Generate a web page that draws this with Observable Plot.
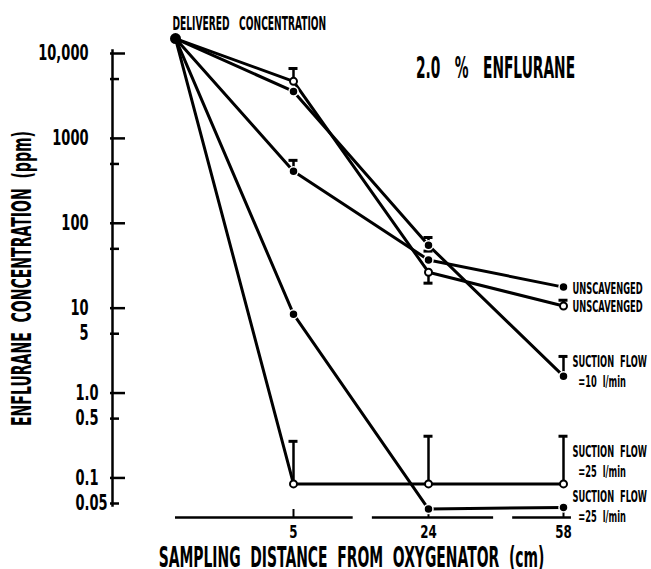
<!DOCTYPE html>
<html><head><meta charset="utf-8">
<script src="https://cdn.jsdelivr.net/npm/d3@7"></script>
<script src="https://cdn.jsdelivr.net/npm/@observablehq/plot@0.6"></script>
<style>
html,body{margin:0;padding:0;background:#fff;}
#chart svg{display:block;}
</style></head><body><div id="chart"></div>
<script>
// ---- data ----
const distances = [0, 5, 24, 58];               // cm from oxygenator (0 = delivered)
const deliveredConc = 15000;                     // ppm
const unscavOpen   = [15000, 4700, 26.5, 10.6];
const unscavFilled = [15000, 410, 37, 17.7];
const suction10    = [15000, 3570, 55, 1.58];
const suction25Open   = [15000, 0.085, 0.085, 0.085];
const suction25Filled = [15000, 8.5, 0.043, 0.045];

const seriesKeys   = ["unscavOpen", "unscavFilled", "suction10", "suction25Open", "suction25Filled"];
const seriesValues = [unscavOpen, unscavFilled, suction10, suction25Open, suction25Filled];
const seriesOpen   = [true, false, false, true, false];
const seriesLabels = ["UNSCAVENGED", "UNSCAVENGED", "SUCTION FLOW\n=10 l/min", "SUCTION FLOW\n=25 l/min", "SUCTION FLOW\n=25 l/min"];

// error bars: from the point value to the capped end
const errSeries = ["unscavOpen", "unscavOpen", "unscavOpen", "unscavFilled", "suction10", "suction10", "suction10", "suction25Open", "suction25Open", "suction25Open"];
const errX    = [5, 24, 58, 5, 24, 24, 58, 5, 24, 58];
const errFrom = [4700, 26.5, 10.6, 410, 55, 55, 1.58, 0.085, 0.085, 0.085];
const errTo   = [6660, 19.7, 12.4, 551, 68, 47, 2.7, 0.27, 0.31, 0.31];

const yLabelValues = [10000, 1000, 100, 10, 5, 1, 0.5, 0.1, 0.05];
const yLabelTexts  = ["10,000", "1000", "100", "10", "5", "1.0", "0.5", "0.1", "0.05"];
const yMajorTicks  = [10000, 1000, 100, 10, 1, 0.1];
const yMinorTicks  = [5000, 500, 50, 5, 0.5, 0.05];
const xTickValues  = [5, 24, 58];
const xTickTexts   = ["5", "24", "58"];
const xAxisSegments = [[0, 13.4], [16.1, 40.4], [45.2, 60]];   // broken axis

const titleText = "2.0 % ENFLURANE";
const deliveredText = "DELIVERED CONCENTRATION";
const xTitle = "SAMPLING DISTANCE FROM OXYGENATOR (cm)";
const yTitle = "ENFLURANE CONCENTRATION (ppm)";

// ---- build tables ----
const sp = (s, n) => s.replace(/ /g, "\u00a0".repeat(n));
const rows = [];
seriesKeys.forEach((k, s) => distances.forEach((d, i) =>
  rows.push({series: k, distance: d, value: seriesValues[s][i], open: seriesOpen[s], first: i === 0})));
const ptRows = rows.filter(r => !r.first);
const errRows = errX.map((x, i) => ({series: errSeries[i], distance: x, from: errFrom[i], to: errTo[i]}));
const yLabels = yLabelValues.map((v, i) => ({value: v, text: yLabelTexts[i], dec: yLabelTexts[i].includes(".")}));
const xTicks = xTickValues.map((v, i) => ({value: v, text: xTickTexts[i]}));
const segs = xAxisSegments.map(([a, b]) => ({x1: a, x2: b}));
const endRows = seriesKeys.map((k, s) => ({series: k, distance: distances[3], value: seriesValues[s][3], text: seriesLabels[s]}));
const labelDy = {unscavOpen: 0, unscavFilled: 0, suction10: -6, suction25Open: -23, suction25Filled: -2};

const FONT = "'DejaVu Sans', sans-serif";
// horizontal condensing per font size (imitates the narrow lettering)
const condense = {21: 0.62, 18: 0.66, 27: 0.52, 29: 0.48, 30: 0.46, 19: 0.48, 16: 0.52};

const svg = Plot.plot({
  width: 651, height: 569,
  marginTop: 53, marginBottom: 66, marginLeft: 112, marginRight: 81,
  x: {type: "linear", domain: distances, range: [175, 293, 428, 563], axis: null},
  y: {type: "log", domain: [0.05, 10000], axis: null},
  style: {fontFamily: FONT, fontWeight: "bold", background: "white", color: "black"},
  marks: [
    // y axis
    Plot.frame({anchor: "left", strokeWidth: 2.5, insetTop: -3, insetBottom: -2}),
    Plot.tickY(yMajorTicks, {y: d => d, insetLeft: -2, insetRight: 445, strokeWidth: 2.5}),
    Plot.tickY(yMinorTicks, {y: d => d, insetLeft: -2, insetRight: 451, strokeWidth: 2.5}),
    Plot.text(yLabels.filter(d => !d.dec), {y: "value", text: "text", frameAnchor: "left", dx: -24, textAnchor: "end", lineAnchor: "middle", fontSize: 21}),
    Plot.text(yLabels.filter(d => d.dec), {y: "value", text: "text", frameAnchor: "left", dx: -37, textAnchor: "start", lineAnchor: "middle", fontSize: 21}),
    Plot.text([yTitle], {text: d => sp(d, 2), frameAnchor: "left", dx: -90, rotate: -90, textAnchor: "middle", lineAnchor: "middle", fontSize: 27}),
    // x axis (broken)
    Plot.ruleY(segs, {y: () => 0.05, x1: "x1", x2: "x2", dy: 14, strokeWidth: 2.5}),
    Plot.ruleX(xTicks, {x: "value", y1: () => 0.05, y2: () => 0.05, insetTop: -8, dy: 14, strokeWidth: 2}),
    Plot.text(xTicks, {x: "value", text: "text", frameAnchor: "bottom", dy: 29, lineAnchor: "middle", fontSize: 18}),
    Plot.text([xTitle], {text: d => sp(d, 2), frameAnchor: "bottom", dx: 10, dy: 54, textAnchor: "middle", lineAnchor: "middle", fontSize: 29}),
    // title and delivered label
    Plot.text([titleText], {text: d => sp(d, 3), frameAnchor: "top", dx: 154, dy: 15, textAnchor: "middle", lineAnchor: "middle", fontSize: 30}),
    Plot.text([deliveredText], {x: () => 0, y: () => deliveredConc, text: d => sp(d, 3), dx: -3, dy: -15, textAnchor: "start", lineAnchor: "middle", fontSize: 19}),
    // series
    Plot.line(rows, {x: "distance", y: "value", z: "series", stroke: "black", strokeWidth: 3}),
    Plot.ruleX(errRows, {x: "distance", y1: "from", y2: "to", strokeWidth: 2.5}),
    Plot.ruleY(errRows, {y: "to", x1: "distance", x2: "distance", insetLeft: -4.5, insetRight: -4.5, strokeWidth: 3}),
    Plot.dot(ptRows.filter(d => !d.open), {x: "distance", y: "value", r: 4.5, fill: "black", stroke: "white", strokeWidth: 1.5}),
    Plot.dot(ptRows.filter(d => d.open), {x: "distance", y: "value", r: 3.5, fill: "white", stroke: "black", strokeWidth: 2}),
    Plot.dot([deliveredConc], {x: () => 0, y: d => d, r: 5.5, fill: "black"}),
    ...seriesKeys.map(k => Plot.text(endRows.filter(d => d.series === k), {
      x: "distance", y: "value", text: d => d.text.split("\n").map((l, i) => (i ? "\u00a0\u00a0" : "") + sp(l, 2)).join("\n"),
      dx: 9, dy: labelDy[k], textAnchor: "start", lineAnchor: "middle", fontSize: 16, lineHeight: 1.25}))
  ]
});
document.getElementById("chart").append(svg);
svg.querySelectorAll("text").forEach(t => {
  const fs = Math.round(parseFloat(getComputedStyle(t).fontSize));
  const f = condense[fs] || 0.6;
  const tr = t.getAttribute("transform") || "";
  t.setAttribute("transform", tr + ` scale(${f},1)`);
});
</script></body></html>
